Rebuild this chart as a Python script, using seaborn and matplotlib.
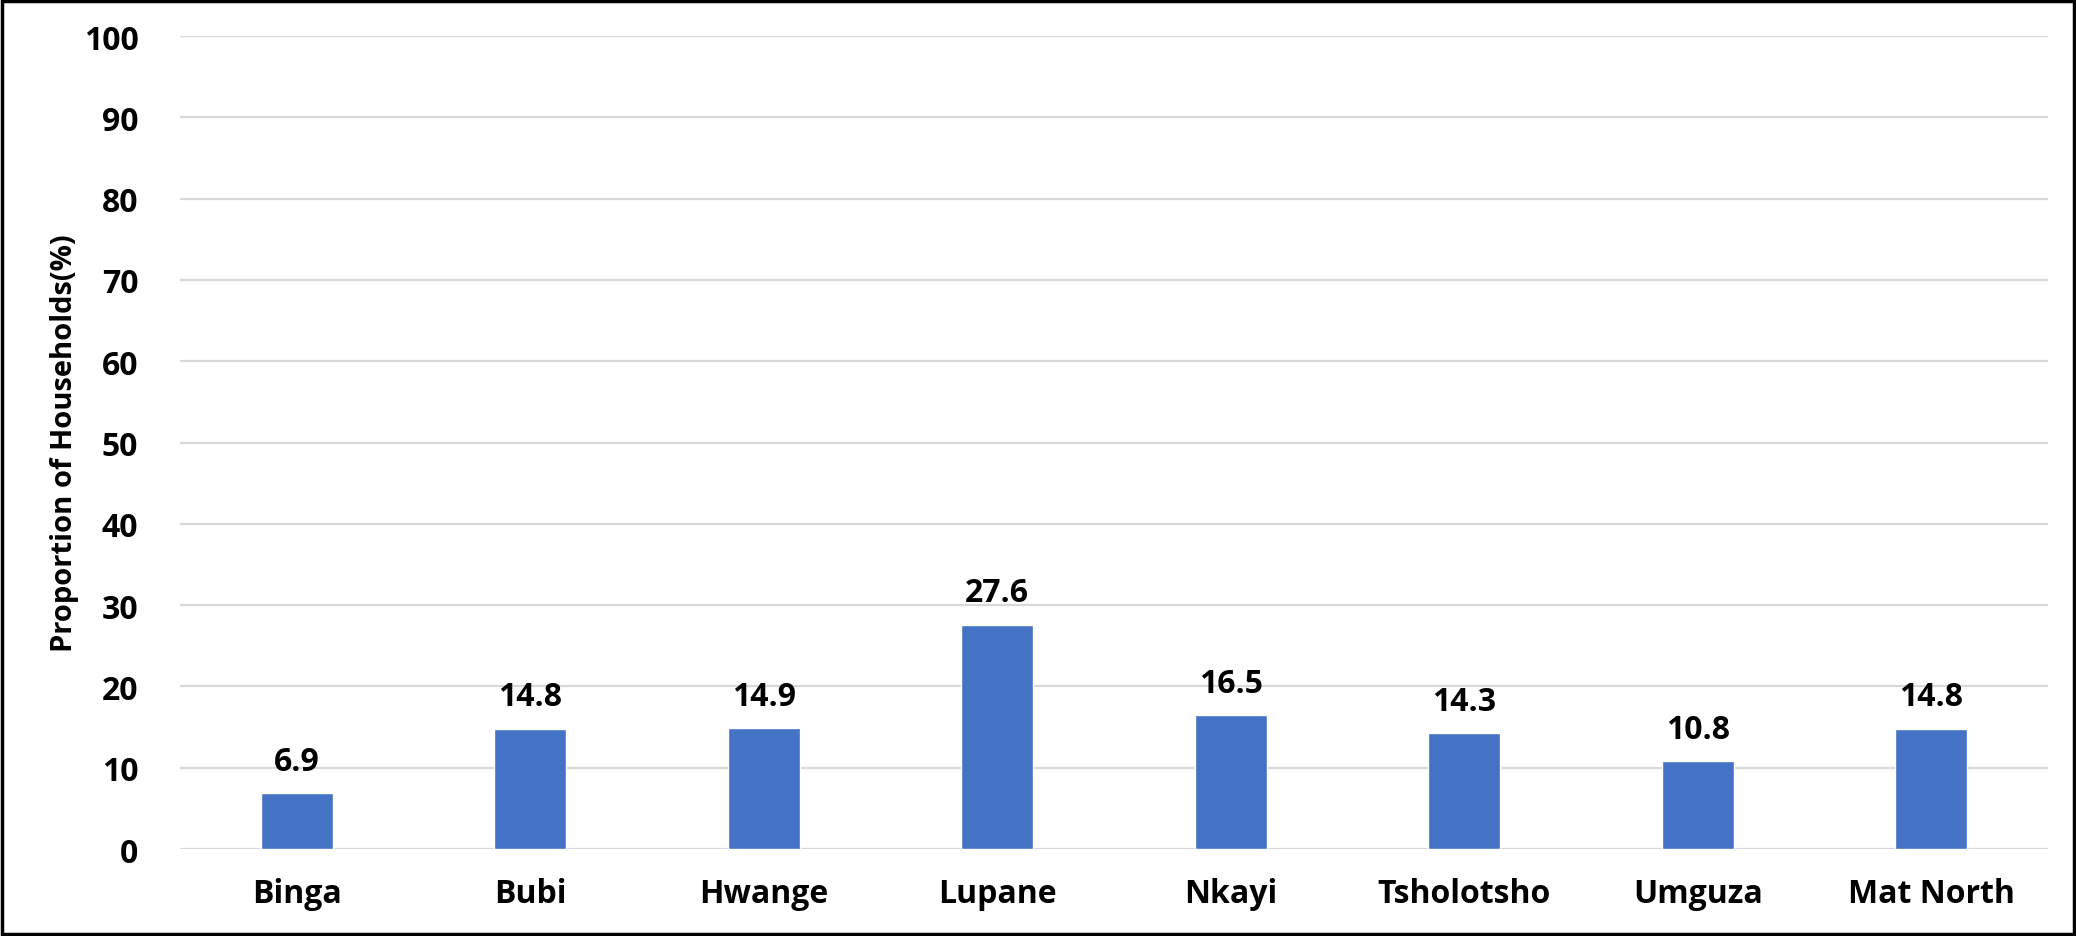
import matplotlib
matplotlib.use("Agg")
import matplotlib.pyplot as plt
import seaborn as sns
import pandas as pd
from matplotlib.patches import Rectangle

districts = ["Binga", "Bubi", "Hwange", "Lupane", "Nkayi", "Tsholotsho", "Umguza", "Mat North"]
proportions = [6.9, 14.8, 14.9, 27.6, 16.5, 14.3, 10.8, 14.8]
y_ticks = list(range(0, 101, 10))

df = pd.DataFrame({"District": districts, "Proportion": proportions})

sns.set_theme(style="white")
plt.rcParams["font.family"] = ["Open Sans", "DejaVu Sans"]
plt.rcParams["font.weight"] = "bold"
plt.rcParams["text.color"] = "black"
plt.rcParams["axes.labelcolor"] = "black"
plt.rcParams["xtick.color"] = "black"
plt.rcParams["ytick.color"] = "black"

fig = plt.figure(figsize=(20.76, 9.37), dpi=100)
ax = fig.add_axes([0.0867, 0.0928, 0.8998, 0.8677])

sns.barplot(data=df, x="District", y="Proportion", color="#4472C4",
            width=0.31, saturation=1, ax=ax, zorder=3)

ax.set_ylim(0, 100)
ax.set_yticks(y_ticks)
ax.set_xlim(-0.5, len(districts) - 0.5)
ax.yaxis.grid(True, color="#d9d9d9", linewidth=1.6, zorder=0)
ax.xaxis.grid(False)
for s in ax.spines.values():
    s.set_visible(False)
ax.tick_params(axis="both", length=0, labelsize=23, colors="black")
ax.tick_params(axis="y", pad=30)
ax.tick_params(axis="x", pad=20)
for lbl in ax.get_xticklabels() + ax.get_yticklabels():
    lbl.set_fontweight("bold")

ax.set_xlabel("")
ax.set_ylabel("Proportion of Households(%)", fontsize=21, fontweight="bold",
              labelpad=3, color="black")

for i, v in enumerate(proportions):
    ax.annotate(f"{v:.1f}", xy=(i, v), xytext=(0, 11), textcoords="offset points",
                ha="center", va="bottom", fontsize=23, fontweight="bold", color="black")

fig.patches.append(Rectangle((0.001, 0.002), 0.998, 0.996, transform=fig.transFigure,
                             fill=False, edgecolor="black", linewidth=2.5))

fig.savefig("out.png", dpi=100, facecolor="white")
